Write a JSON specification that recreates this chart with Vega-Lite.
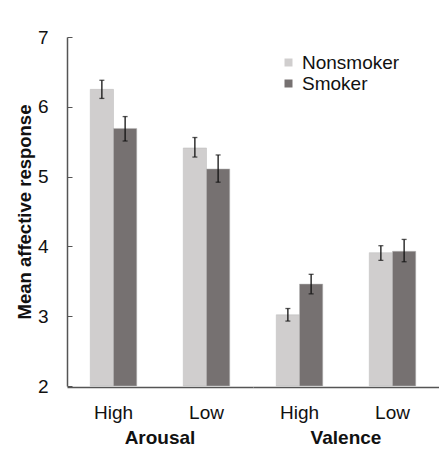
{
  "$schema": "https://vega.github.io/schema/vega-lite/v6.json",
  "background": "white",
  "padding": {"left": 15, "top": 28, "right": 0, "bottom": 0},
  "data": {
    "values": [
      {"Dimension": "Arousal", "Level": "High", "Group": "Nonsmoker", "Mean": 6.25, "Lo": 6.12, "Hi": 6.38},
      {"Dimension": "Arousal", "Level": "High", "Group": "Smoker", "Mean": 5.69, "Lo": 5.51, "Hi": 5.86},
      {"Dimension": "Arousal", "Level": "Low", "Group": "Nonsmoker", "Mean": 5.41, "Lo": 5.28, "Hi": 5.56},
      {"Dimension": "Arousal", "Level": "Low", "Group": "Smoker", "Mean": 5.11, "Lo": 4.92, "Hi": 5.31},
      {"Dimension": "Valence", "Level": "High", "Group": "Nonsmoker", "Mean": 3.02, "Lo": 2.93, "Hi": 3.11},
      {"Dimension": "Valence", "Level": "High", "Group": "Smoker", "Mean": 3.46, "Lo": 3.32, "Hi": 3.6},
      {"Dimension": "Valence", "Level": "Low", "Group": "Nonsmoker", "Mean": 3.91, "Lo": 3.8, "Hi": 4.01},
      {"Dimension": "Valence", "Level": "Low", "Group": "Smoker", "Mean": 3.93, "Lo": 3.78, "Hi": 4.1}
    ]
  },
  "facet": {
    "column": {
      "field": "Dimension",
      "type": "nominal",
      "sort": ["Arousal", "Valence"],
      "title": null,
      "header": {
        "labelOrient": "bottom",
        "labelFont": "Liberation Sans",
        "labelFontSize": 19,
        "labelFontWeight": "bold",
        "labelColor": "#111",
        "labelPadding": 7
      }
    }
  },
  "spacing": 0,
  "spec": {
    "width": 186,
    "height": 349,
    "encoding": {
      "x": {
        "field": "Level",
        "type": "nominal",
        "sort": ["High", "Low"],
        "scale": {"paddingInner": 0.5, "paddingOuter": 0.25},
        "axis": {
          "title": null,
          "ticks": false,
          "labelAngle": 0,
          "labelPadding": 16,
          "labelFontSize": 19,
          "domainColor": "#555",
          "domainWidth": 1.5
        }
      },
      "xOffset": {"field": "Group", "type": "nominal", "sort": ["Nonsmoker", "Smoker"]}
    },
    "layer": [
      {
        "mark": {"type": "bar", "stroke": "#bbb", "strokeWidth": 0.5},
        "encoding": {
          "y": {
            "field": "Mean",
            "type": "quantitative",
            "scale": {"domain": [2, 7], "nice": false, "zero": false},
            "axis": {
              "title": "Mean affective response",
              "titleFontSize": 18.5,
              "titleFontWeight": "bold",
              "titlePadding": 3,
              "values": [2, 3, 4, 5, 6, 7],
              "format": "d",
              "grid": false,
              "tickSize": -5,
              "tickColor": "#555",
              "labelFontSize": 19,
              "labelPadding": 24,
              "domainColor": "#555",
              "domainWidth": 1.5
            }
          },
          "y2": {"datum": 2},
          "color": {
            "field": "Group",
            "type": "nominal",
            "scale": {"domain": ["Nonsmoker", "Smoker"], "range": ["#D0CECE", "#767171"]},
            "legend": {
              "title": null,
              "orient": "none",
              "legendX": 212,
              "legendY": 16,
              "symbolType": "square",
              "symbolSize": 64,
              "symbolStrokeWidth": 0,
              "labelFontSize": 19,
              "rowPadding": 1
            }
          }
        }
      },
      {
        "mark": {"type": "rule", "color": "#111", "strokeWidth": 1.3},
        "encoding": {
          "y": {"field": "Lo", "type": "quantitative"},
          "y2": {"field": "Hi"}
        }
      },
      {
        "mark": {"type": "tick", "color": "#111", "size": 5, "thickness": 1.3},
        "encoding": {"y": {"field": "Lo", "type": "quantitative"}}
      },
      {
        "mark": {"type": "tick", "color": "#111", "size": 5, "thickness": 1.3},
        "encoding": {"y": {"field": "Hi", "type": "quantitative"}}
      }
    ]
  },
  "config": {
    "font": "Liberation Sans",
    "view": {"stroke": null},
    "axis": {"labelColor": "#111", "titleColor": "#111", "labelFont": "Liberation Sans", "titleFont": "Liberation Sans"},
    "legend": {"labelColor": "#111", "labelFont": "Liberation Sans"}
  }
}
